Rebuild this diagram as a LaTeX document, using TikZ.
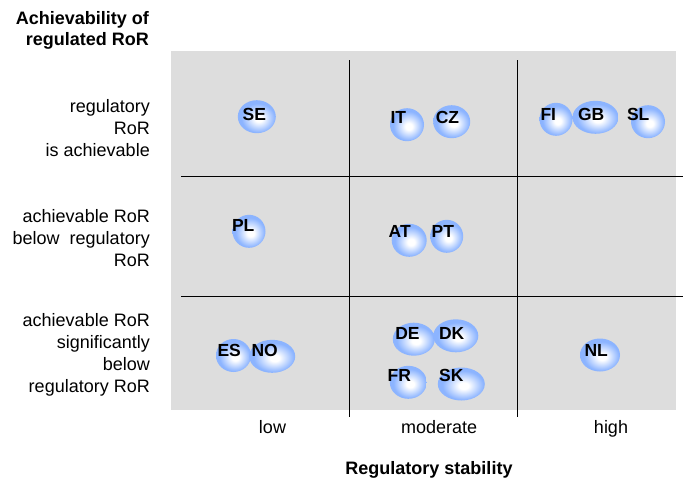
\documentclass[tikz,border=0pt]{standalone}
\usepackage{fontspec}
\setmainfont{Liberation Sans}
\usepackage{xcolor}
\usetikzlibrary{shapes.geometric}
\definecolor{cellgray}{RGB}{221,221,221}
\definecolor{bubblue}{RGB}{140,180,255}
\pgfdeclareradialshading{bubshade}{\pgfpoint{3bp}{-3bp}}{%
  color(0bp)=(white); color(5bp)=(white); color(22bp)=(bubblue); color(50bp)=(bubblue)}

\begin{document}
\begin{tikzpicture}[x=1pt, y=-1pt,
  bub/.style={ellipse, inner sep=0pt, minimum height=33pt, minimum width=#1,
    shading=bubshade},
  bub/.default=34pt,
  cty/.style={font=\fontsize{17.5}{20}\selectfont\bfseries, inner sep=0pt},
  rowlab/.style={anchor=east, align=right, inner sep=0pt, font=\fontsize{18}{22}\selectfont},
  collab/.style={anchor=base, inner sep=0pt, font=\fontsize{18}{22}\selectfont},
  axlab/.style={font=\fontsize{18}{21}\selectfont\bfseries, inner sep=0pt},
  sep/.style={line width=1pt},
]
\useasboundingbox (0,0) rectangle (685,479);
% grid
\fill[cellgray] (171,51) rectangle (676,410);
\draw[sep] (181,176.7) -- (683,176.7);
\draw[sep] (181,296) -- (683,296);
\draw[sep] (349,60) -- (349,417);
\draw[sep] (517,60) -- (517,417);
% axes
\node[axlab, anchor=east, align=right] (ylab) at (149,30.5) {Achievability of\\regulated RoR};
\node[axlab, anchor=base] (xlab) at (429,474) {Regulatory stability};
\node[rowlab] (r1) at (150,128.5) {regulatory\\RoR\\is achievable};
\node[rowlab] (r2) at (150,238) {achievable RoR\\below\ \ regulatory\\RoR};
\node[rowlab] (r3) at (150,355) {achievable RoR\\significantly\\below\\regulatory RoR};
\node[collab] (c1) at (272.5,433.3) {low};
\node[collab] (c2) at (439.2,433.3) {moderate};
\node[collab] (c3) at (611,433.3) {high};
% bubbles
\node[bub=38pt] (se) at (256.8,116.7) {};
\node[bub] (it) at (407,124.7) {};
\node[bub=37pt] (cz) at (451.7,121.7) {};
\node[bub=33pt] (fi) at (556,119.3) {};
\node[bub=46pt] (gb) at (595.5,117.3) {};
\node[bub] (sl) at (648,121.7) {};
\node[bub=33pt] (pl) at (249,231.3) {};
\node[bub=35pt] (at) at (409.2,240.3) {};
\node[bub=33pt] (pt) at (446.7,236.3) {};
\node[bub=35pt] (es) at (233.5,355.5) {};
\node[bub=46pt] (no) at (272.2,356.3) {};
\node[bub=42pt] (de) at (413.8,339.2) {};
\node[bub=45pt] (dk) at (455.8,335.8) {};
\node[bub=37pt] (fr) at (408.3,382.3) {};
\node[bub=47pt] (sk) at (461.3,384) {};
\node[bub=40pt] (nl) at (600,355) {};
% country codes
\node[cty] (se-t) at (254.3,114.5) {SE};
\node[cty] (it-t) at (398.3,117) {IT};
\node[cty] (cz-t) at (447.5,117) {CZ};
\node[cty] (fi-t) at (548.3,114) {FI};
\node[cty] (gb-t) at (591.2,114) {GB};
\node[cty] (sl-t) at (638.2,114) {SL};
\node[cty] (pl-t) at (243.2,225.8) {PL};
\node[cty] (at-t) at (399.7,231.7) {AT};
\node[cty] (pt-t) at (442.8,231.7) {PT};
\node[cty] (es-t) at (229.2,350) {ES};
\node[cty] (no-t) at (264.7,350) {NO};
\node[cty] (de-t) at (407.5,333) {DE};
\node[cty] (dk-t) at (451.7,333) {DK};
\node[cty] (fr-t) at (399.3,375.7) {FR};
\node[cty] (sk-t) at (451.3,375.7) {SK};
\node[cty] (nl-t) at (596.2,350) {NL};
\end{tikzpicture}
\end{document}
